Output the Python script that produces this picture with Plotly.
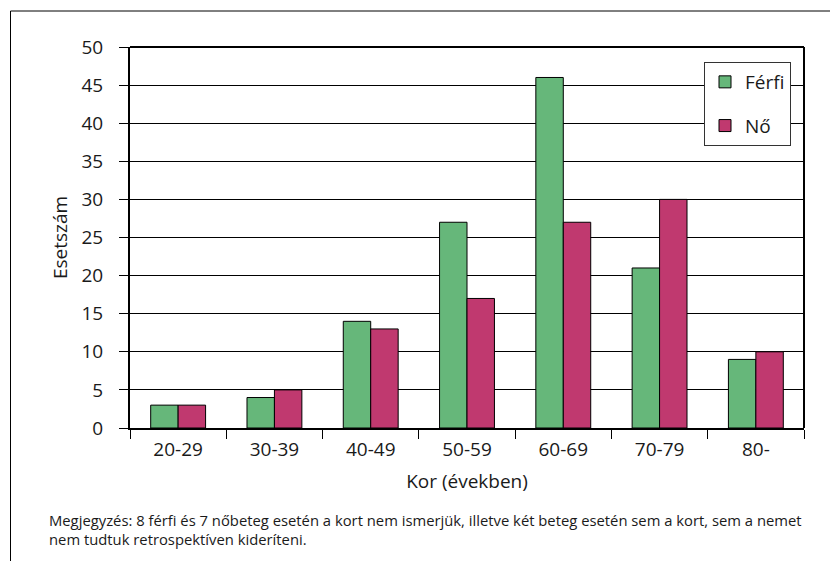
import plotly.graph_objects as go

categories = ["20-29", "30-39", "40-49", "50-59", "60-69", "70-79", "80-"]
ferfi = [3, 4, 14, 27, 46, 21, 9]
no = [3, 5, 13, 17, 27, 30, 10]

L, R, T, B = 130, 26, 47, 133
W, H = 830, 561
pw, ph = W - L - R, H - T - B

def px_x(px):
    return (px - L) / pw

def px_y(py):
    return (H - B - py) / ph

font_family = "Open Sans, Noto Sans, sans-serif"

fig = go.Figure()
fig.add_trace(go.Bar(x=categories, y=ferfi, name="Férfi", legendgroup="a",
                     marker=dict(color="#66b77a", line=dict(color="#000", width=1))))
fig.add_trace(go.Bar(x=categories, y=no, name="Nő", legendgroup="b",
                     marker=dict(color="#c0396f", line=dict(color="#000", width=1))))

fig.update_layout(
    width=W, height=H,
    margin=dict(l=L, r=R, t=T, b=B, autoexpand=False),
    paper_bgcolor="white", plot_bgcolor="white",
    font=dict(family=font_family, size=19, color="#1a1a1a"),
    barmode="group", bargap=0.43, bargroupgap=0,
    showlegend=True,
    legend=dict(x=px_x(704), y=px_y(62), xanchor="left", yanchor="top",
                bgcolor="white", bordercolor="#333", borderwidth=1,
                traceorder="grouped", tracegroupgap=16,
                itemwidth=30,
                font=dict(size=19)),
    xaxis=dict(type="category", tickson="boundaries", ticks="outside", ticklen=9,
               tickcolor="#000", showline=True, linecolor="#000", linewidth=2,
               mirror=False, showgrid=False, ticklabelstandoff=3,
               title=dict(text="Kor (években)", font=dict(size=19), standoff=14)),
    yaxis=dict(range=[0, 50], dtick=5, ticks="outside", ticklen=9, tickcolor="#000",
               showline=True, linecolor="#000", linewidth=2,
               showgrid=True, gridcolor="#000", gridwidth=1,
               zeroline=False, ticklabelstandoff=12,
               title=dict(text="Esetszám", font=dict(size=19), standoff=9)),
    shapes=[
        dict(type="line", xref="paper", yref="paper", x0=0, x1=1, y0=1, y1=1,
             line=dict(color="#000", width=2)),
        dict(type="line", xref="paper", yref="paper", x0=1, x1=1, y0=0, y1=1,
             line=dict(color="#000", width=2)),
        dict(type="line", xref="paper", yref="paper", x0=px_x(10.5), x1=px_x(830),
             y0=px_y(11), y1=px_y(11), line=dict(color="#000", width=1)),
        dict(type="line", xref="paper", yref="paper", x0=px_x(10.5), x1=px_x(10.5),
             y0=px_y(11), y1=px_y(561), line=dict(color="#000", width=1)),
    ],
    annotations=[
        dict(xref="paper", yref="paper", x=px_x(47), y=px_y(508), xanchor="left",
             yanchor="top", align="left", showarrow=False,
             font=dict(size=14.8, color="#1a1a1a"),
             text="Megjegyzés: 8 férfi és 7 nőbeteg esetén a kort nem ismerjük, illetve két beteg esetén sem a kort, sem a nemet<br>nem tudtuk retrospektíven kideríteni."),
    ],
)

fig.write_html("out.html", config={"displayModeBar": False},
               post_script="document.body.style.margin='0px';")
